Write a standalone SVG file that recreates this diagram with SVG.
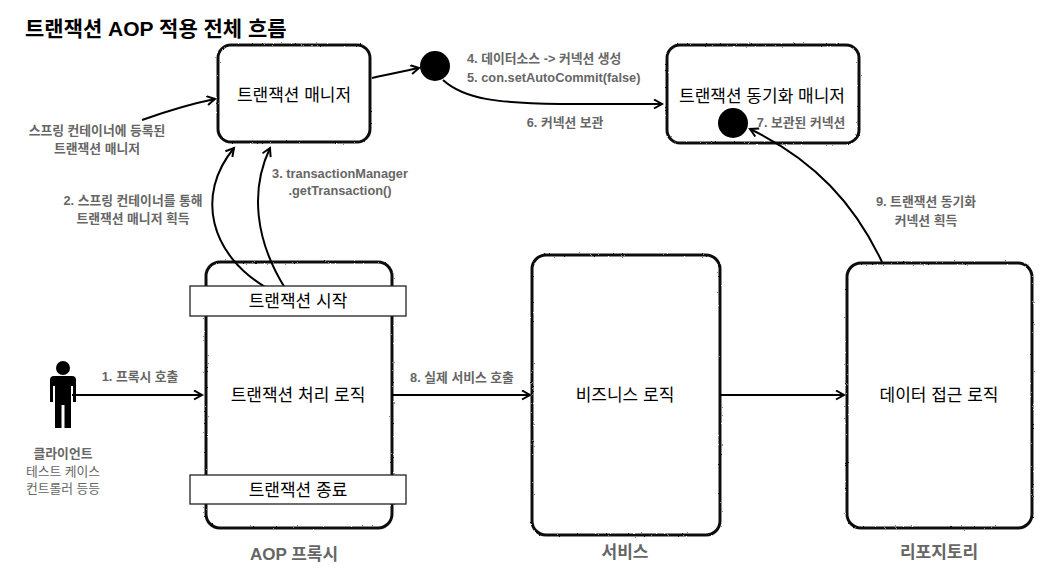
<svg xmlns="http://www.w3.org/2000/svg" width="1057" height="583" viewBox="0 0 1057 583">
<style>
text{font-family:"Liberation Sans","Noto Sans CJK KR",sans-serif;}
.title{font-size:21px;font-weight:bold;fill:#000;}
.node{font-size:17px;fill:#000;text-anchor:middle;}
.lbl{font-size:12.8px;font-weight:bold;fill:#666;text-anchor:middle;}
.lblr{font-size:12.8px;fill:#666;text-anchor:middle;}
.cap{font-size:17px;font-weight:bold;fill:#666;text-anchor:middle;}
.box{fill:#fff;stroke:#111;stroke-width:3;filter:url(#rough);}
.band{fill:#fff;stroke:#222;stroke-width:1.3;}
.conn{fill:none;stroke:#000;stroke-width:2;marker-end:url(#arr);}
</style>
<defs>
<filter id="rough" x="-5%" y="-5%" width="110%" height="110%">
<feTurbulence type="fractalNoise" baseFrequency="1.1" numOctaves="2" seed="4" result="n"/>
<feDisplacementMap in="SourceGraphic" in2="n" scale="2" xChannelSelector="R" yChannelSelector="G"/>
</filter>
<marker id="arr" markerWidth="12" markerHeight="12" refX="9" refY="5" orient="auto" markerUnits="userSpaceOnUse">
<path d="M1,0.5 L9,5 L1,9.5" fill="none" stroke="#000" stroke-width="2"/>
</marker>
</defs>
<rect width="1057" height="583" fill="#fff"/>
<text class="title" x="25" y="36">트랜잭션 AOP 적용 전체 흐름</text>

<g id="client">
<circle cx="63" cy="368" r="7" fill="#000"/>
<path d="M54,376 L72,376 Q76,376 76,380 L76,402 L73,402 L73,386 L71,386 L71,428 L64.5,428 L64.5,405 L61.5,405 L61.5,428 L55,428 L55,386 L53,386 L53,402 L50,402 L50,380 Q50,376 54,376 Z" fill="#000"/>
<text class="lbl" x="63" y="458">클라이언트</text>
<text class="lblr" x="63" y="476">테스트 케이스</text>
<text class="lblr" x="63" y="493">컨트롤러 등등</text>
</g>

<g id="tx-manager">
<rect class="box" x="218" y="45" width="152" height="97" rx="13"/>
<text class="node" x="294" y="101">트랜잭션 매니저</text>
</g>

<g id="datasource-dot">
<circle cx="435" cy="66" r="15" fill="#000"/>
</g>

<g id="sync-manager">
<rect class="box" x="667" y="45" width="192" height="98" rx="13"/>
<text class="node" x="762" y="102">트랜잭션 동기화 매니저</text>
<circle cx="733" cy="123" r="15" fill="#000"/>
<text class="lbl" x="801" y="127">7. 보관된 커넥션</text>
</g>

<g id="aop-proxy">
<rect class="box" x="206" y="262" width="186" height="266" rx="14"/>
<text class="node" x="298" y="401">트랜잭션 처리 로직</text>
<text class="cap" x="294" y="560">AOP 프록시</text>
</g>

<g id="service">
<rect class="box" x="532" y="255" width="188" height="280" rx="14"/>
<text class="node" x="625" y="401">비즈니스 로직</text>
<text class="cap" x="625" y="558">서비스</text>
</g>

<g id="repository">
<rect class="box" x="847" y="263" width="185" height="265" rx="14"/>
<text class="node" x="939" y="401">데이터 접근 로직</text>
<text class="cap" x="939" y="558">리포지토리</text>
</g>

<g id="connectors">
<path class="conn" d="M142,120 C170,110 195,103 215,99"/>
<path class="conn" d="M372,78 C390,74 405,71 419,68"/>
<path class="conn" d="M443,80 C465,100 500,103 560,104 L662,104"/>
<path class="conn" d="M267,288 C210,255 195,195 234,148"/>
<path class="conn" d="M285,288 C255,240 250,190 270,148"/>
<path class="conn" d="M72,395 L202,395"/>
<path class="conn" d="M392,395 L530,395"/>
<path class="conn" d="M720,395 L844,395"/>
<path class="conn" d="M882,262 C855,205 815,160 750,129"/>
</g>

<g id="tx-start">
<rect class="band" x="190" y="286" width="216" height="30"/>
<text class="node" x="298" y="307">트랜잭션 시작</text>
</g>

<g id="tx-end">
<rect class="band" x="190" y="475" width="216" height="29"/>
<text class="node" x="298" y="496">트랜잭션 종료</text>
</g>

<g id="labels">
<text class="lbl" x="97" y="135">스프링 컨테이너에 등록된</text>
<text class="lbl" x="97" y="153">트랜잭션 매니저</text>
<text class="lbl" x="133" y="205">2. 스프링 컨테이너를 통해</text>
<text class="lbl" x="133" y="223">트랜잭션 매니저 획득</text>
<text class="lbl" x="340" y="178">3. transactionManager</text>
<text class="lbl" x="340" y="195">.getTransaction()</text>
<text class="lbl" x="467" y="63" style="text-anchor:start">4. 데이터소스 -&gt; 커넥션 생성</text>
<text class="lbl" x="467" y="82" style="text-anchor:start">5. con.setAutoCommit(false)</text>
<text class="lbl" x="565" y="127">6. 커넥션 보관</text>
<text class="lbl" x="140" y="381">1. 프록시 호출</text>
<text class="lbl" x="462" y="382">8. 실제 서비스 호출</text>
<text class="lbl" x="926" y="206">9. 트랜잭션 동기화</text>
<text class="lbl" x="926" y="225">커넥션 획득</text>
</g>
</svg>
